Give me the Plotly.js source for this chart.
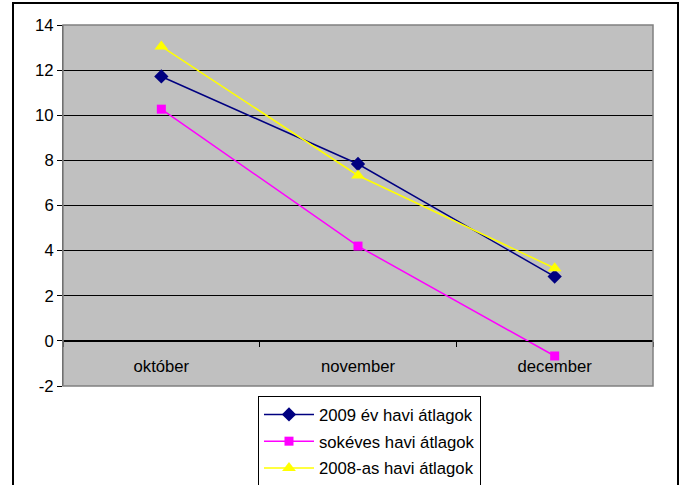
<!DOCTYPE html>
<html>
<head>
<meta charset="utf-8">
<script src="https://cdn.plot.ly/plotly-3.0.1.min.js"></script>
<style>
  html, body { margin: 0; padding: 0; background: #fff; overflow: hidden; }
  #wrap { position: absolute; left: 0; top: 0; width: 682px; height: 485px; }
  #frame { position: absolute; left: 12px; top: 2px; width: 663px; height: 500px; border: 2px solid #000; pointer-events: none; }
  #chart { position: absolute; left: 0; top: 0; width: 682px; height: 485px; }
</style>
</head>
<body>
<div id="wrap">
  <div id="chart"></div>
  <div id="frame"></div>
</div>
<script>
const categories = ["október", "november", "december"];
const series2009 = [11.72, 7.84, 2.85];
const seriesLongTerm = [10.27, 4.2, -0.67];
const series2008 = [13.05, 7.33, 3.22];
const seriesNames = ["2009 év havi átlagok", "sokéves havi átlagok", "2008-as havi átlagok"];
const yTicks = [-2, 0, 2, 4, 6, 8, 10, 12, 14];

const font = { family: "Liberation Sans, Arial, sans-serif", size: 16.7, color: "#000" };

const traces = [
  { x: categories, y: series2009, name: seriesNames[0], legendgroup: "a", type: "scatter", mode: "lines+markers",
    line: { color: "#000080", width: 1.5 }, marker: { symbol: "diamond", size: 11, color: "#000080" } },
  { x: categories, y: seriesLongTerm, name: seriesNames[1], legendgroup: "b", type: "scatter", mode: "lines+markers",
    line: { color: "#FF00FF", width: 1.5 }, marker: { symbol: "square", size: 9, color: "#FF00FF" } },
  { x: categories, y: series2008, name: seriesNames[2], legendgroup: "c", type: "scatter", mode: "lines+markers",
    line: { color: "#FFFF00", width: 1.5 }, marker: { symbol: "triangle-up", size: 12, color: "#FFFF00" } }
];

const layout = {
  width: 682, height: 485,
  margin: { l: 63, r: 29, t: 25, b: 99, autoexpand: false },
  paper_bgcolor: "#ffffff",
  plot_bgcolor: "#C0C0C0",
  font: font,
  showlegend: true,
  legend: {
    x: 0.3305, y: -0.028, xanchor: "left", yanchor: "top",
    bgcolor: "#ffffff", bordercolor: "#000", borderwidth: 1,
    font: font, traceorder: "grouped", tracegroupgap: 2, itemwidth: 50
  },
  xaxis: {
    type: "category", range: [-0.5, 2.5], autorange: false,
    anchor: "free", position: 0.125,
    showline: true, linecolor: "#000", linewidth: 1,
    ticks: "outside", tickson: "boundaries", ticklen: 5, tickcolor: "#000",
    ticklabelstandoff: 10,
    showgrid: false, zeroline: false,
    tickfont: font, fixedrange: true
  },
  yaxis: {
    range: [-2, 14], tickvals: yTicks, ticktext: yTicks.map(String),
    showline: true, linecolor: "#404040", linewidth: 1,
    ticks: "outside", ticklen: 5, tickcolor: "#000",
    showgrid: true, gridcolor: "#000", gridwidth: 1,
    zeroline: false, tickfont: font, fixedrange: true
  },
  shapes: [
    { type: "rect", xref: "paper", yref: "paper", x0: 0, x1: 1, y0: 0, y1: 1,
      line: { color: "#808080", width: 1.5 }, layer: "above" }
  ]
};

Plotly.newPlot("chart", traces, layout, { staticPlot: true, displayModeBar: false });
</script>
</body>
</html>
